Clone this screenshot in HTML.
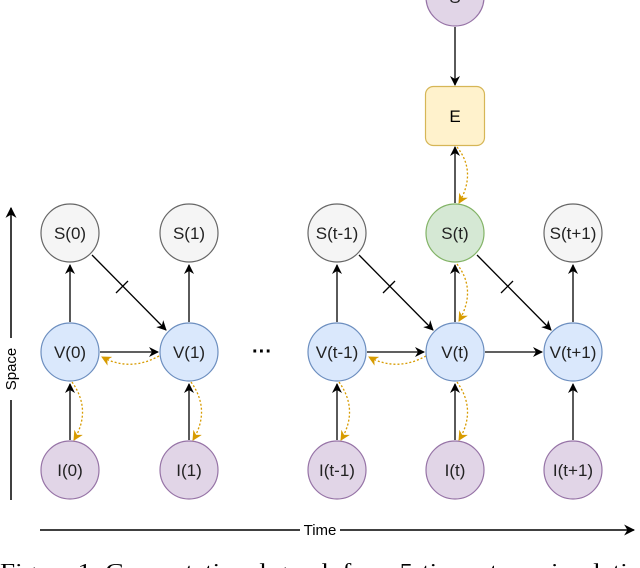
<!DOCTYPE html>
<html><head><meta charset="utf-8"><style>
html,body{margin:0;padding:0;background:#fff;}
svg{display:block;}
text{font-family:"Liberation Sans",Arial,sans-serif;}
text.cap{font-family:"Liberation Serif","Times New Roman",serif;}
</style></head><body>
<svg width="640" height="568" viewBox="0 0 640 568" xmlns="http://www.w3.org/2000/svg">
<defs>
<marker id="a" viewBox="0 0 10 10" refX="9" refY="5" markerWidth="10" markerHeight="10" markerUnits="userSpaceOnUse" orient="auto"><path d="M0,0 L10,5 L0,10 L3,5 z" fill="#000"/></marker>
<marker id="b" viewBox="0 0 10 10" refX="9" refY="5" markerWidth="11" markerHeight="11" markerUnits="userSpaceOnUse" orient="auto"><path d="M0,0 L10,5 L0,10 L3,5 z" fill="#000"/></marker>
<marker id="o" viewBox="0 0 10 10" refX="9" refY="5" markerWidth="10" markerHeight="10" markerUnits="userSpaceOnUse" orient="auto"><path d="M0,0 L10,5 L0,10 L3,5 z" fill="#d79b00"/></marker>
</defs>
<line x1="11" y1="500" x2="11" y2="208" stroke="#000" stroke-width="1.5" marker-end="url(#b)"/>
<rect x="2" y="338" width="18" height="62" fill="#fff"/>
<text transform="translate(16,369) rotate(-90)" font-size="15" text-anchor="middle">Space</text>
<line x1="40" y1="530" x2="634" y2="530" stroke="#000" stroke-width="1.5" marker-end="url(#b)"/>
<rect x="300" y="521" width="40" height="18" fill="#fff"/>
<text x="320" y="535" font-size="15" text-anchor="middle">Time</text>
<g stroke="#000" stroke-width="1.3" fill="none">
<line x1="70" y1="440" x2="70" y2="384" marker-end="url(#a)"/>
<line x1="189" y1="440" x2="189" y2="384" marker-end="url(#a)"/>
<line x1="337" y1="440" x2="337" y2="384" marker-end="url(#a)"/>
<line x1="455" y1="440" x2="455" y2="384" marker-end="url(#a)"/>
<line x1="573" y1="440" x2="573" y2="384" marker-end="url(#a)"/>
<line x1="70" y1="322" x2="70" y2="265" marker-end="url(#a)"/>
<line x1="189" y1="322" x2="189" y2="265" marker-end="url(#a)"/>
<line x1="337" y1="322" x2="337" y2="265" marker-end="url(#a)"/>
<line x1="455" y1="322" x2="455" y2="265" marker-end="url(#a)"/>
<line x1="573" y1="322" x2="573" y2="265" marker-end="url(#a)"/>
<line x1="455" y1="203" x2="455" y2="147" marker-end="url(#a)"/>
<line x1="455" y1="27" x2="455" y2="85" marker-end="url(#a)"/>
<line x1="100" y1="352" x2="158" y2="352" marker-end="url(#a)"/>
<line x1="367" y1="352" x2="424" y2="352" marker-end="url(#a)"/>
<line x1="485" y1="352" x2="542" y2="352" marker-end="url(#a)"/>
<line x1="92" y1="255" x2="166" y2="330" marker-end="url(#a)"/>
<line x1="359" y1="255" x2="433" y2="330" marker-end="url(#a)"/>
<line x1="477" y1="255" x2="551" y2="330" marker-end="url(#a)"/>
<line x1="116" y1="293" x2="128" y2="281"/>
<line x1="383" y1="293" x2="395" y2="281"/>
<line x1="501" y1="293" x2="513" y2="281"/>
</g>
<g stroke="#d79b00" stroke-width="1.3" stroke-dasharray="2,2" fill="none">
<path d="M159,356 Q130,372 102,357" marker-end="url(#o)"/>
<path d="M426,356 Q397,372 369,357" marker-end="url(#o)"/>
<path d="M72,382 Q92,410 74,440" marker-end="url(#o)"/>
<path d="M191,382 Q211,410 193,440" marker-end="url(#o)"/>
<path d="M339,382 Q359,410 341,440" marker-end="url(#o)"/>
<path d="M457,382 Q477,410 459,440" marker-end="url(#o)"/>
<path d="M457,264 Q477,290 459,321" marker-end="url(#o)"/>
<path d="M457,147 Q477,172 459,203" marker-end="url(#o)"/>
</g>
<g stroke-width="1.2" font-size="17" text-anchor="middle">
<circle cx="455" cy="-3" r="29" fill="#e1d5e7" stroke="#9673a6"/>
<text x="455" y="3" fill="#222">S</text>
<rect x="425.5" y="86.5" width="59" height="59" rx="8" fill="#fff2cc" stroke="#d6b656"/>
<text x="455" y="122" fill="#000">E</text>
<g fill="#f5f5f5" stroke="#666">
<circle cx="70" cy="233" r="29"/><circle cx="189" cy="233" r="29"/><circle cx="337" cy="233" r="29"/><circle cx="573" cy="233" r="29"/>
</g>
<circle cx="455" cy="233" r="29" fill="#d5e8d4" stroke="#82b366"/>
<g fill="#dae8fc" stroke="#6c8ebf">
<circle cx="70" cy="352" r="29"/><circle cx="189" cy="352" r="29"/><circle cx="337" cy="352" r="29"/><circle cx="455" cy="352" r="29"/><circle cx="573" cy="352" r="29"/>
</g>
<g fill="#e1d5e7" stroke="#9673a6">
<circle cx="70" cy="470" r="29"/><circle cx="189" cy="470" r="29"/><circle cx="337" cy="470" r="29"/><circle cx="455" cy="470" r="29"/><circle cx="573" cy="470" r="29"/>
</g>
<g fill="#222">
<text x="70" y="239">S(0)</text><text x="189" y="239">S(1)</text><text x="337" y="239">S(t-1)</text><text x="455" y="239">S(t)</text><text x="573" y="239">S(t+1)</text>
<text x="70" y="358">V(0)</text><text x="189" y="358">V(1)</text><text x="337" y="358">V(t-1)</text><text x="455" y="358">V(t)</text><text x="573" y="358">V(t+1)</text>
<text x="70" y="476">I(0)</text><text x="189" y="476">I(1)</text><text x="337" y="476">I(t-1)</text><text x="455" y="476">I(t)</text><text x="573" y="476">I(t+1)</text>
</g>
</g>
<text x="262" y="358" font-size="20" font-weight="bold" text-anchor="middle">···</text>
<text class="cap" x="0" y="578" font-size="21" textLength="655" lengthAdjust="spacingAndGlyphs">Figure 1: Computational graph for a 5-time-steps simulation</text>
</svg>
</body></html>
